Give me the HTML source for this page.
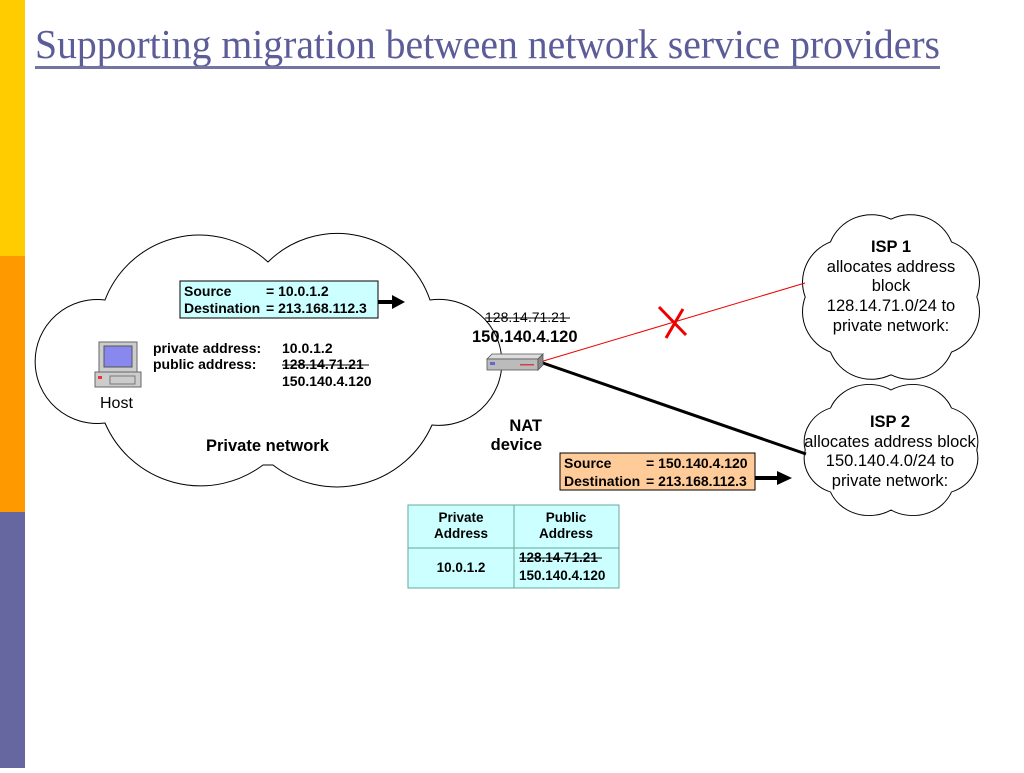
<!DOCTYPE html>
<html><head><meta charset="utf-8"><style>
body{margin:0;width:1024px;height:768px;background:#fff;overflow:hidden;font-family:"Liberation Sans",sans-serif}
</style></head><body>
<svg width="1024" height="768" viewBox="0 0 1024 768" xmlns="http://www.w3.org/2000/svg" font-family="Liberation Sans, sans-serif">
<rect x="0" y="0" width="25" height="256" fill="#ffcc00"/>
<rect x="0" y="256" width="25" height="256" fill="#ff9900"/>
<rect x="0" y="512" width="25" height="256" fill="#6666a0"/>
<text x="35" y="58" font-family="Liberation Serif, serif" font-size="41" fill="#5c5c99" textLength="905" lengthAdjust="spacingAndGlyphs">Supporting migration between network service providers</text>
<rect x="35" y="66" width="905" height="3" fill="#7474a0"/>

<!-- big cloud -->
<path d="M 105 300 A 101 101 0 0 1 268 262 A 98 98 0 0 1 430 300 A 63 63 0 1 1 432 425 A 104 104 0 0 1 273 465 L 263 465 A 104 104 0 0 1 105 423 A 62 62 0 1 1 105 300 Z" fill="#fff" stroke="#000" stroke-width="1"/>
<!-- ISP clouds -->
<g transform="translate(891 297) scale(1.1 1.08) translate(-891 -297)">
<path d="M 969 297 A 40 40 0 0 1 946 348 A 40 40 0 0 1 891 369 A 40 40 0 0 1 836 348 A 40 40 0 0 1 813 297 A 40 40 0 0 1 836 246 A 40 40 0 0 1 891 225 A 40 40 0 0 1 946 246 A 40 40 0 0 1 969 297 Z" fill="#fff" stroke="#000" stroke-width="0.92"/>
</g>
<g transform="translate(891 450) scale(1.1 1.0) translate(-891 -450)">
<path d="M 969 450 A 36 36 0 0 1 946 492 A 38 38 0 0 1 891 510 A 38 38 0 0 1 836 492 A 36 36 0 0 1 813 450 A 36 36 0 0 1 836 408 A 38 38 0 0 1 891 390 A 38 38 0 0 1 946 408 A 36 36 0 0 1 969 450 Z" fill="#fff" stroke="#000" stroke-width="0.92"/>
</g>

<!-- lines -->
<line x1="540" y1="362" x2="805" y2="283" stroke="#e00" stroke-width="1"/>
<path d="M659 307 L686 335 M683 309 L666 338" stroke="#e00" stroke-width="3" fill="none"/>
<line x1="540" y1="362" x2="806" y2="454" stroke="#000" stroke-width="3"/>

<!-- NAT device -->
<polygon points="487,359 492,354 543,354 538,359" fill="#ddd" stroke="#555" stroke-width="0.8"/>
<rect x="487" y="359" width="51" height="11" fill="#bbb" stroke="#555" stroke-width="0.8"/>
<polygon points="538,359 543,354 543,365 538,370" fill="#888" stroke="#555" stroke-width="0.8"/>
<rect x="490" y="362" width="5" height="3" fill="#66c"/>
<rect x="520" y="364" width="14" height="1.5" fill="#c44"/>

<!-- host computer -->
<rect x="99" y="342" width="38" height="30" fill="#ccc" stroke="#666"/>
<rect x="104" y="346" width="28" height="21" fill="#8888ee" stroke="#555"/>
<rect x="95" y="372" width="46" height="15" fill="#ccc" stroke="#666"/>
<rect x="98" y="376" width="4" height="3" fill="#e33"/>
<rect x="110" y="376" width="25" height="8" fill="none" stroke="#777"/>

<!-- source box -->
<rect x="180" y="281" width="198" height="37" fill="#ccffff" stroke="#000"/>
<g font-size="14" font-weight="bold">
<text x="184" y="296">Source</text><text x="266" y="296">= 10.0.1.2</text>
<text x="184" y="313">Destination</text><text x="266" y="313">= 213.168.112.3</text>
</g>
<line x1="378" y1="302" x2="395" y2="302" stroke="#000" stroke-width="4"/>
<polygon points="392,295 405,302 392,309" fill="#000"/>

<!-- orange box -->
<rect x="560" y="453" width="195" height="37" fill="#ffcc99" stroke="#000"/>
<g font-size="14" font-weight="bold">
<text x="564" y="468">Source</text><text x="646" y="468">= 150.140.4.120</text>
<text x="564" y="486">Destination</text><text x="646" y="486">= 213.168.112.3</text>
</g>
<line x1="755" y1="478" x2="780" y2="478" stroke="#000" stroke-width="4"/>
<polygon points="777,471 792,478 777,485" fill="#000"/>

<!-- host labels -->
<g font-size="14" font-weight="bold">
<text x="153" y="353">private address:</text><text x="282" y="353">10.0.1.2</text>
<text x="153" y="369">public address:</text><text x="282" y="369">128.14.71.21</text>
<line x1="282" y1="365" x2="369" y2="365" stroke="#000" stroke-width="1"/>
<text x="282" y="386">150.140.4.120</text>
</g>
<text x="100" y="408" font-size="16">Host</text>
<text x="206" y="451" font-size="16.5" font-weight="bold">Private network</text>

<text x="485" y="322" font-size="14">128.14.71.21</text>
<line x1="485" y1="318" x2="570" y2="318" stroke="#000" stroke-width="1"/>
<text x="472" y="342" font-size="16.5" font-weight="bold">150.140.4.120</text>
<text x="542" y="431" font-size="16.5" font-weight="bold" text-anchor="end">NAT</text>
<text x="542" y="450" font-size="16.5" font-weight="bold" text-anchor="end">device</text>

<g font-size="16.5" text-anchor="middle">
<text x="891" y="252" font-weight="bold">ISP 1</text>
<text x="891" y="272">allocates address</text>
<text x="891" y="291">block</text>
<text x="891" y="311">128.14.71.0/24 to</text>
<text x="891" y="331">private network:</text>
<text x="890" y="427" font-weight="bold">ISP 2</text>
<text x="890" y="447">allocates address block</text>
<text x="890" y="466">150.140.4.0/24 to</text>
<text x="890" y="486">private network:</text>
</g>

<!-- table -->
<rect x="408" y="505" width="211" height="83" fill="#ccffff" stroke="#6a9"/>
<line x1="514" y1="505" x2="514" y2="588" stroke="#6a9"/>
<line x1="408" y1="548" x2="619" y2="548" stroke="#6a9"/>
<g font-size="13.5" font-weight="bold" text-anchor="middle">
<text x="461" y="522">Private</text><text x="461" y="538">Address</text>
<text x="566" y="522">Public</text><text x="566" y="538">Address</text>
<text x="461" y="572">10.0.1.2</text>
</g>
<g font-size="13.5" font-weight="bold">
<text x="519" y="562">128.14.71.21</text>
<line x1="519" y1="558" x2="602" y2="558" stroke="#000"/>
<text x="519" y="580">150.140.4.120</text>
</g>
</svg>
</body></html>
